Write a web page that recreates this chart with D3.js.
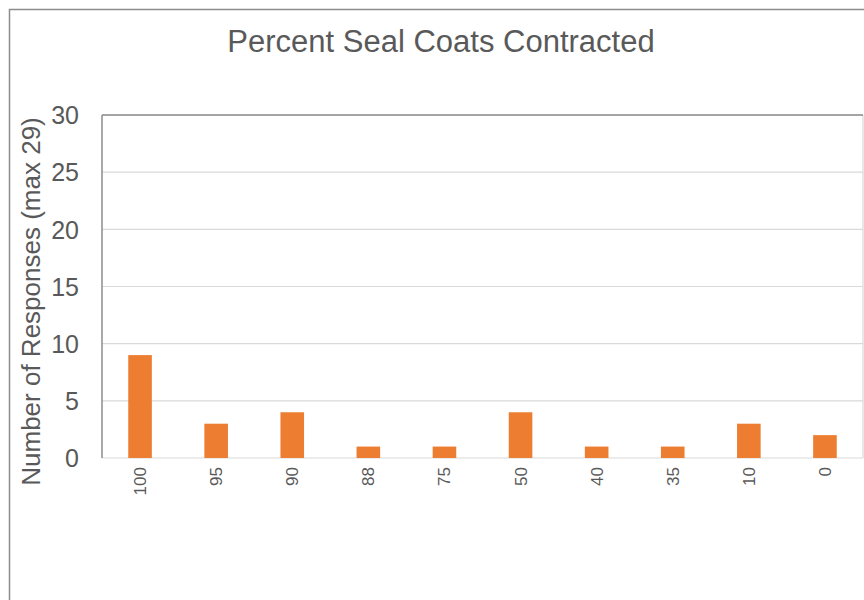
<!DOCTYPE html>
<html>
<head>
<meta charset="utf-8">
<script src="https://cdn.jsdelivr.net/npm/d3@7"></script>
<style>
  html, body { margin: 0; padding: 0; background: #fff; }
  svg text { font-family: "Liberation Sans", Arial, Helvetica, sans-serif; fill: #595959; }
</style>
</head>
<body>
<svg id="chart" width="864" height="600"></svg>
<script>
// Survey responses by percentage of seal coats contracted out
const categories = ["100", "95", "90", "88", "75", "50", "40", "35", "10", "0"];
const responses = [9, 3, 4, 1, 1, 4, 1, 1, 3, 2];
const yTicks = [0, 5, 10, 15, 20, 25, 30];
const titleText = "Percent Seal Coats Contracted";
const yAxisTitle = "Number of Responses (max 29)";

const svg = d3.select("#chart");
const W = 864, H = 600;
const plot = { left: 102, top: 115, right: 863, bottom: 458 };

// Outer chart frame
svg.append("rect")
  .attr("x", 9.5).attr("y", 9.5)
  .attr("width", W + 10).attr("height", H + 10)
  .attr("fill", "none").attr("stroke", "#8c8c8c").attr("stroke-width", 1.5);

const x = d3.scaleBand()
  .domain(categories)
  .range([plot.left, plot.right])
  .paddingInner(0.69).paddingOuter(0.345);

const y = d3.scaleLinear().domain([0, 30]).range([plot.bottom, plot.top]);

// Horizontal gridlines
svg.append("g")
  .selectAll("line")
  .data(yTicks)
  .join("line")
  .attr("x1", plot.left).attr("x2", plot.right)
  .attr("y1", d => y(d)).attr("y2", d => y(d))
  .attr("stroke", "#d9d9d9").attr("stroke-width", 1.2);

// Plot-area edges: darker on the left and top, light on the right
svg.append("line")
  .attr("x1", plot.right).attr("x2", plot.right)
  .attr("y1", plot.top).attr("y2", plot.bottom)
  .attr("stroke", "#d9d9d9").attr("stroke-width", 1.2);
svg.append("line")
  .attr("x1", plot.left).attr("x2", plot.right)
  .attr("y1", plot.top).attr("y2", plot.top)
  .attr("stroke", "#8c8c8c").attr("stroke-width", 1.5);
svg.append("line")
  .attr("x1", plot.left).attr("x2", plot.left)
  .attr("y1", plot.top).attr("y2", plot.bottom)
  .attr("stroke", "#8c8c8c").attr("stroke-width", 1.5);

// Bars
svg.append("g")
  .selectAll("rect")
  .data(categories.map((c, i) => ({ c, v: responses[i] })))
  .join("rect")
  .attr("x", d => x(d.c))
  .attr("width", x.bandwidth())
  .attr("y", d => y(d.v))
  .attr("height", d => y(0) - y(d.v))
  .attr("fill", "#ed7d31");

// Y axis labels
const yAxis = d3.axisLeft(y).tickValues(yTicks).tickSize(0).tickPadding(0);
const gy = svg.append("g").attr("transform", `translate(79,0)`).call(yAxis);
gy.select(".domain").remove();
gy.selectAll("text")
  .attr("font-size", 25)
  .attr("dy", "0.35em")
  .style("fill", "#595959");

// X axis labels, rotated
const xAxis = d3.axisBottom(x).tickSize(0).tickPadding(0);
const gx = svg.append("g").attr("transform", `translate(0,${plot.bottom})`).call(xAxis);
gx.select(".domain").remove();
gx.selectAll("text")
  .attr("font-size", 17)
  .attr("transform", "rotate(-90)")
  .attr("text-anchor", "end")
  .attr("x", -9)
  .attr("y", 0)
  .attr("dy", "0.35em")
  .style("fill", "#595959");

// Title
svg.append("text")
  .attr("x", 441).attr("y", 52)
  .attr("text-anchor", "middle")
  .attr("font-size", 31)
  .text(titleText);

// Y axis title
svg.append("text")
  .attr("transform", `translate(40,${(118 + 485) / 2}) rotate(-90)`)
  .attr("text-anchor", "middle")
  .attr("font-size", 26)
  .text(yAxisTitle);
</script>
</body>
</html>
